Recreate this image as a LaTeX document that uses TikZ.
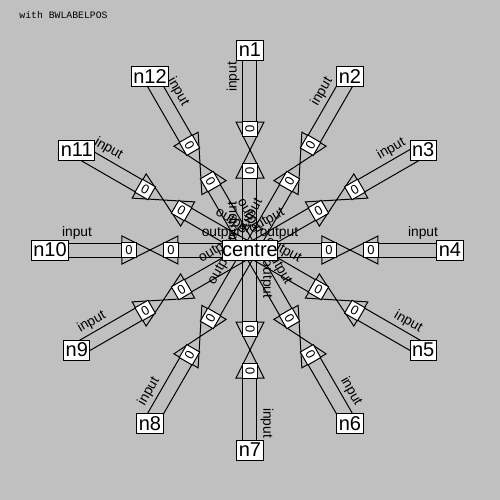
\documentclass[tikz,border=0pt]{standalone}
\usepackage{fontspec}
\setmainfont{Liberation Sans}
\newfontfamily\titlefont{Liberation Mono}
\usetikzlibrary{calc,backgrounds}
\definecolor{panelgrey}{HTML}{C0C0C0}

\begin{document}
\begin{tikzpicture}[x=0.5pt,y=0.5pt,
  vtx/.style={draw,fill=white,line width=0.5pt,inner sep=1pt,minimum height=10pt,
              font=\fontsize{10}{12}\selectfont},
  railline/.style={line width=0.5pt},
  arrowtri/.style={line width=0.5pt},
  zerobox/.style={draw,fill=white,line width=0.5pt,inner sep=0pt,minimum width=7.5pt,
              minimum height=7.5pt,font=\fontsize{6.5}{7}\selectfont},
  lbl/.style={font=\fontsize{6.9}{8}\selectfont,inner xsep=0pt,inner ysep=5pt,anchor=south}
]
  \useasboundingbox (-250,-250) rectangle (250,250);
  \begin{scope}[on background layer]
    \fill[panelgrey] (-250,-250) rectangle (250,250);
  \end{scope}
  \node[font=\titlefont\fontsize{4.9}{6}\selectfont,anchor=base west,inner sep=0pt]
    (title) at (-231,232) {with BWLABELPOS};

  % centre and ring
  \node[vtx,inner xsep=0pt] (centre) at (0,0) {centre};
  \foreach \k [evaluate=\k as \a using {90-30*(\k-1)}] in {1,...,12}
    \node[vtx] (n\k) at (\a:200) {n\k};

  % edges: two rails, tip-to-tip triangles, labels (all under the nodes)
  \foreach \k [evaluate=\k as \a using {90-30*(\k-1)},
               evaluate=\k as \r using {ifthenelse(90-30*(\k-1)<-90,270-30*(\k-1),90-30*(\k-1))}]
    in {1,...,12} {
    \coordinate (ib\k) at ($(centre.center)!0.36!(n\k.center)$);
    \coordinate (ap\k) at ($(centre.center)!0.5!(n\k.center)$);
    \coordinate (ob\k) at ($(centre.center)!0.64!(n\k.center)$);
    \begin{scope}[on background layer]
      \draw[railline] ($(centre.center)!3.5pt!90:(n\k.center)$) -- ($(ib\k)!3.5pt!-90:(centre.center)$);
      \draw[railline] ($(centre.center)!3.5pt!-90:(n\k.center)$) -- ($(ib\k)!3.5pt!90:(centre.center)$);
      \draw[railline] ($(n\k.center)!3.5pt!90:(centre.center)$) -- ($(ob\k)!3.5pt!90:(centre.center)$);
      \draw[railline] ($(n\k.center)!3.5pt!-90:(centre.center)$) -- ($(ob\k)!3.5pt!-90:(centre.center)$);
      \draw[arrowtri] ($(ib\k)!7pt!90:(n\k.center)$) -- (ap\k) -- ($(ib\k)!7pt!-90:(n\k.center)$) -- cycle;
      \draw[arrowtri] ($(ob\k)!7pt!90:(centre.center)$) -- (ap\k) -- ($(ob\k)!7pt!-90:(centre.center)$) -- cycle;
      \path (centre.center) -- (n\k.center)
        node[zerobox,pos=0.395,rotate=\r] (zi\k) {0}
        node[zerobox,pos=0.605,rotate=\r] (zo\k) {0}
        node[lbl,pos=0.145,rotate=\r] (out\k) {output}
        node[lbl,pos=0.865,rotate=\r] (in\k) {input};
    \end{scope}
  }
\end{tikzpicture}
\end{document}
